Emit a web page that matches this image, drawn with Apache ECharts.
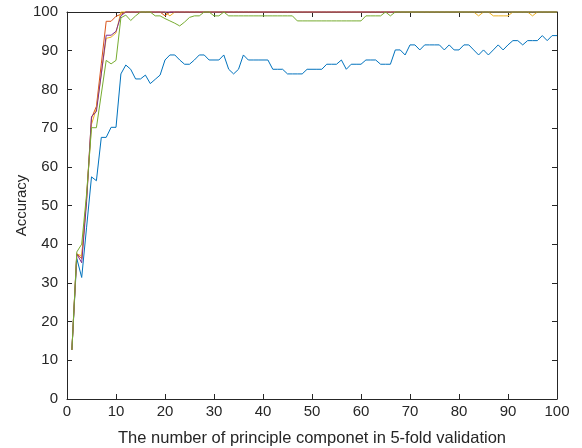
<!DOCTYPE html>
<html>
<head>
<meta charset="utf-8">
<script src="https://cdn.jsdelivr.net/npm/echarts@6/dist/echarts.min.js"></script>
<style>
  html, body { margin: 0; padding: 0; background: #fff; }
  #main { width: 582px; height: 448px; }
</style>
</head>
<body>
<div id="main"></div>
<script>
// number of principal components, 1..100
let components = [];
for (let i = 1; i <= 100; i++) components.push(i);

let xTicks = [0, 10, 20, 30, 40, 50, 60, 70, 80, 90, 100];
let yTicks = [0, 10, 20, 30, 40, 50, 60, 70, 80, 90, 100];

// accuracy per fold
let fold1 = [
  12.7, 36.3, 31.4, 44.4, 57.4, 56.4, 67.6, 67.6, 70.2, 70.2,
  84.0, 86.3, 85.2, 82.7, 82.7, 83.7, 81.5, 82.6, 83.7, 87.6,
  88.9, 88.9, 87.6, 86.5, 86.5, 87.6, 88.9, 88.9, 87.6, 87.6,
  87.6, 88.9, 85.2, 84.0, 85.2, 88.9, 87.6, 87.6, 87.6, 87.6,
  87.6, 85.2, 85.2, 85.2, 84.0, 84.0, 84.0, 84.0, 85.2, 85.2,
  85.2, 85.2, 86.5, 86.5, 86.5, 87.6, 85.2, 86.5, 86.5, 86.5,
  87.6, 87.6, 87.6, 86.5, 86.5, 86.5, 90.2, 90.2, 88.9, 91.5,
  91.5, 90.2, 91.5, 91.5, 91.5, 91.5, 90.2, 91.5, 90.2, 90.2,
  91.5, 91.5, 90.2, 88.9, 90.2, 88.9, 90.2, 91.5, 90.2, 91.5,
  92.6, 92.6, 91.5, 92.6, 92.6, 92.6, 93.9, 92.6, 93.9, 93.9
];
let fold2 = [
  12.7, 37.5, 36.3, 52.0, 72.6, 75.6, 86.6, 97.6, 97.6, 98.9,
  99.4, 100, 100, 100, 100, 100, 100, 100, 100, 99.0,
  100, 100, 100, 100, 100, 100, 100, 100, 100, 100,
  100, 100, 100, 100, 100, 100, 100, 100, 100, 100,
  100, 100, 100, 100, 100, 100, 100, 100, 100, 100,
  100, 100, 100, 100, 100, 100, 100, 100, 100, 100,
  100, 100, 100, 100, 100, 100, 100, 100, 100, 100,
  100, 100, 100, 100, 100, 100, 100, 100, 100, 100,
  100, 100, 100, 100, 100, 100, 100, 100, 100, 100,
  100, 100, 100, 100, 100, 100, 100, 100, 100, 100
];
let fold3 = [
  12.7, 37.5, 37.0, 52.0, 71.0, 75.0, 84.0, 93.2, 93.5, 94.6,
  100, 100, 100, 100, 100, 100, 100, 100, 100, 100,
  99.0, 100, 100, 100, 100, 100, 100, 100, 100, 100,
  100, 100, 100, 100, 100, 100, 100, 100, 100, 100,
  100, 100, 100, 100, 100, 100, 100, 100, 100, 100,
  100, 100, 100, 100, 100, 100, 100, 100, 100, 100,
  100, 100, 100, 100, 100, 100, 100, 100, 100, 100,
  100, 100, 100, 100, 100, 100, 100, 100, 100, 100,
  100, 100, 100, 99.0, 100, 100, 99.0, 99.0, 99.0, 99.0,
  100, 100, 100, 100, 99.0, 100, 100, 100, 100, 100
];
let fold4 = [
  12.7, 37.5, 35.2, 51.0, 73.0, 74.3, 84.0, 94.0, 94.0, 95.0,
  99.0, 100, 100, 100, 100, 100, 100, 100, 100, 100,
  100, 100, 100, 100, 100, 100, 100, 100, 100, 100,
  100, 100, 100, 100, 100, 100, 100, 100, 100, 100,
  100, 100, 100, 100, 100, 100, 100, 100, 100, 100,
  100, 100, 100, 100, 100, 100, 100, 100, 100, 100,
  100, 100, 100, 100, 100, 100, 100, 100, 100, 100,
  100, 100, 100, 100, 100, 100, 100, 100, 100, 100,
  100, 100, 100, 100, 100, 100, 100, 100, 100, 100,
  100, 100, 100, 100, 100, 100, 100, 100, 100, 100
];
let fold5 = [
  12.7, 38.0, 40.0, 53.0, 70.1, 70.1, 78.8, 87.5, 86.6, 87.5,
  98.5, 99.2, 97.8, 99.0, 100, 100, 100, 99.0, 99.0, 98.3,
  97.7, 97.1, 96.4, 97.4, 98.6, 99.0, 99.0, 100, 100, 99.0,
  99.0, 100, 99.0, 99.0, 99.0, 99.0, 99.0, 99.0, 99.0, 99.0,
  99.0, 99.0, 99.0, 99.0, 99.0, 99.0, 97.7, 97.7, 97.7, 97.7,
  97.7, 97.7, 97.7, 97.7, 97.7, 97.7, 97.7, 97.7, 97.7, 97.7,
  99.0, 99.0, 99.0, 99.0, 100, 99.0, 100, 100, 100, 100,
  100, 100, 100, 100, 100, 100, 100, 100, 100, 100,
  100, 100, 100, 100, 100, 100, 100, 100, 100, 100,
  100, 100, 100, 100, 100, 100, 100, 100, 100, 100
];

let folds = [fold1, fold2, fold3, fold4, fold5];
let colors = ["#0072BD", "#D95319", "#EDB120", "#7E2F8E", "#77AC30"];

let myChart = echarts.init(document.getElementById("main"));

let textColor = "#262626";
let font = "Liberation Sans, Arial, Helvetica, sans-serif";

let boxAxis = {
  min: 0,
  max: 100,
  interval: 10,
  axisLine: { show: true, onZero: false, lineStyle: { color: textColor, width: 1 } },
  axisTick: { show: true, inside: true, length: 5, lineStyle: { color: textColor } },
  splitLine: { show: false },
};

let options = {
  animation: false,
  backgroundColor: "#fff",
  grid: { left: 67, right: 25, top: 12, bottom: 49, outerBoundsMode: "none" },
  xAxis: [
    Object.assign({}, boxAxis, {
      type: "value",
      position: "bottom",
      name: "The number of principle componet in 5-fold validation",
      nameLocation: "middle",
      nameGap: 31,
      nameMoveOverlap: false,
      nameTextStyle: { color: textColor, fontSize: 16.5, fontFamily: font },
      axisLabel: {
        color: textColor, fontSize: 15, fontFamily: font, margin: 5,
        formatter: (v) => (xTicks.includes(v) ? String(v) : ""),
      },
    }),
    Object.assign({}, boxAxis, { type: "value", position: "top", axisLabel: { show: false } }),
  ],
  yAxis: [
    Object.assign({}, boxAxis, {
      type: "value",
      position: "left",
      name: "Accuracy",
      nameLocation: "middle",
      nameGap: 38,
      nameMoveOverlap: false,
      nameTextStyle: { color: textColor, fontSize: 15, fontFamily: font },
      axisLabel: {
        color: textColor, fontSize: 15, fontFamily: font, margin: 9,
        formatter: (v) => (yTicks.includes(v) ? String(v) : ""),
      },
    }),
    Object.assign({}, boxAxis, { type: "value", position: "right", axisLabel: { show: false } }),
  ],
  series: folds.map((fold, k) => ({
    name: "fold " + (k + 1),
    type: "line",
    xAxisIndex: 0,
    yAxisIndex: 0,
    showSymbol: false,
    clip: false,
    data: fold.map((v, i) => [components[i], v]),
    lineStyle: { color: colors[k], width: 1 },
    itemStyle: { color: colors[k] },
  })),
};

myChart.setOption(options);
</script>
</body>
</html>
